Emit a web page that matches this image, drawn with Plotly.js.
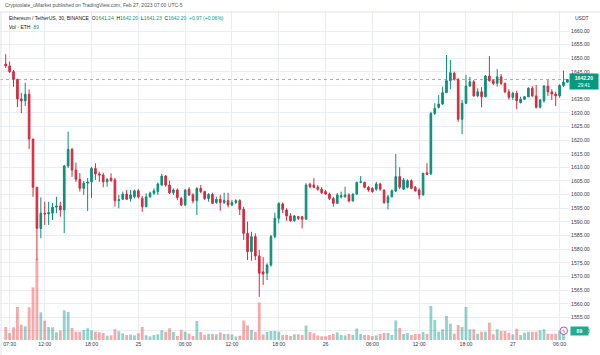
<!DOCTYPE html>
<html><head><meta charset="utf-8">
<script src="https://cdn.plot.ly/plotly-3.0.1.min.js"></script>
<style>html,body{margin:0;padding:0;background:#fff;}#chart{width:600px;height:355px;}</style>
</head><body><div id="chart"></div>
<script>
// ---- data (ETH/USDT, Binance, 30-minute candles, UTC-5) ----
const START = '2023-02-24T07:00:00Z';
const STEP_MIN = 30;

const opens = [1647.9,1647.2,1645.1,1642.3,1635.1,1634.4,1636.8,1620.4,1602.7,1587.6,
1593.2,1592.9,1593.2,1595.4,1595.8,1594.4,1610.5,1616.6,1609.0,1605.6,
1602.3,1604.2,1604.7,1609.6,1607.6,1607.2,1604.7,1606.0,1605.4,1597.8,
1598.3,1600.2,1598.6,1599.2,1601.4,1598.6,1595.6,1599.2,1600.5,1601.1,
1603.5,1606.8,1603.5,1600.7,1601.7,1598.6,1596.2,1601.9,1599.9,1597.8,
1602.3,1601.1,1598.6,1600.1,1597.1,1598.3,1597.1,1597.8,1596.2,1597.1,
1597.8,1594.6,1585.8,1579.1,1584.6,1577.5,1571.7,1571.2,1574.2,1584.6,
1591.3,1596.6,1594.4,1592.2,1590.4,1591.9,1591.9,1591.0,1603.8,1603.5,
1602.7,1602.0,1601.1,1600.2,1598.6,1596.8,1599.2,1599.2,1599.9,1597.7,
1600.2,1604.5,1604.5,1602.7,1602.3,1602.0,1603.9,1601.7,1597.1,1599.2,
1601.3,1606.6,1602.0,1602.7,1605.1,1602.7,1601.7,1599.9,1608.0,1607.6,
1629.8,1632.0,1633.2,1637.4,1641.8,1644.5,1642.3,1627.6,1633.5,1639.8,
1641.4,1636.2,1637.7,1635.9,1643.5,1641.8,1640.8,1643.2,1640.8,1637.7,
1635.7,1637.2,1633.7,1635.0,1635.9,1639.0,1636.2,1632.0,1634.4,1639.8,
1637.7,1636.9,1636.2,1640.0,1641.24];

const highs = [1651.5,1648.8,1645.7,1642.4,1637.3,1641.0,1638.6,1620.4,1602.8,1599.0,
1597.4,1597.4,1597.0,1599.2,1597.4,1610.9,1623.1,1617.1,1611.7,1607.9,
1605.0,1606.1,1610.2,1611.5,1608.4,1608.0,1606.0,1607.8,1606.1,1599.9,
1601.1,1601.7,1601.7,1601.9,1602.0,1599.5,1600.5,1601.1,1602.3,1604.4,
1607.6,1607.2,1605.1,1602.3,1602.3,1599.2,1601.9,1602.7,1600.5,1602.7,
1603.5,1601.4,1600.5,1600.7,1599.2,1599.9,1600.7,1600.7,1598.0,1598.3,
1598.3,1595.5,1590.1,1586.4,1585.8,1579.7,1577.1,1574.8,1585.2,1593.4,
1597.1,1597.1,1595.0,1593.2,1592.5,1592.2,1592.2,1604.2,1604.4,1606.0,
1603.5,1602.7,1601.7,1600.7,1599.2,1600.6,1601.1,1602.9,1600.5,1600.5,
1604.7,1606.8,1604.7,1603.2,1602.7,1604.7,1604.4,1601.9,1599.9,1601.9,
1614.9,1610.0,1606.1,1605.6,1605.6,1603.2,1602.3,1608.0,1611.5,1630.4,
1633.5,1636.5,1639.6,1651.2,1649.4,1645.1,1642.7,1634.7,1643.9,1643.2,
1642.0,1639.0,1639.4,1643.9,1650.8,1642.3,1646.0,1644.2,1641.0,1638.6,
1637.7,1638.1,1635.9,1636.2,1639.4,1639.8,1640.2,1635.0,1640.2,1642.0,
1638.6,1637.7,1640.5,1645.5,1642.20];

const lows = [1646.4,1644.6,1639.5,1632.1,1629.9,1632.5,1616.7,1599.2,1576.0,1584.0,
1588.9,1588.9,1590.7,1593.2,1591.9,1585.9,1609.8,1606.5,1604.7,1601.1,
1599.9,1594.0,1598.8,1605.4,1604.7,1602.7,1602.9,1604.7,1595.6,1595.0,
1598.0,1598.0,1597.4,1598.6,1598.6,1593.7,1595.3,1598.8,1599.9,1599.9,
1603.2,1602.9,1600.2,1599.9,1598.0,1595.8,1595.8,1599.5,1596.8,1592.5,
1600.5,1598.0,1597.4,1596.6,1596.6,1594.1,1596.6,1595.3,1595.8,1596.6,
1592.5,1583.4,1576.0,1575.8,1576.0,1562.5,1566.9,1568.7,1573.6,1584.0,
1589.5,1593.2,1590.4,1590.1,1590.1,1590.7,1587.6,1590.7,1602.3,1602.3,
1601.4,1600.2,1599.9,1598.0,1595.6,1596.6,1598.6,1598.9,1597.1,1597.4,
1599.9,1604.2,1602.3,1601.1,1600.7,1601.4,1601.4,1596.6,1594.6,1599.0,
1600.9,1602.0,1601.7,1602.3,1602.0,1601.1,1598.3,1599.6,1607.2,1607.2,
1629.2,1631.6,1632.9,1637.2,1638.6,1641.8,1626.7,1622.2,1633.2,1639.6,
1635.9,1635.7,1632.0,1635.7,1641.4,1640.2,1639.6,1640.2,1637.2,1634.9,
1634.7,1631.3,1633.5,1634.7,1635.7,1635.9,1631.6,1631.6,1633.7,1636.2,
1634.7,1632.5,1635.5,1639.5,1641.23];

const closes = [1647.2,1645.1,1642.3,1635.1,1634.4,1636.8,1620.4,1602.7,1587.6,1593.2,
1592.9,1593.4,1595.4,1595.8,1594.4,1610.5,1616.6,1609.0,1605.6,1602.3,
1604.2,1604.6,1609.6,1607.6,1607.2,1604.7,1605.6,1605.1,1597.8,1598.1,
1600.2,1598.3,1599.9,1601.4,1599.2,1595.6,1599.2,1600.5,1601.4,1603.9,
1606.8,1603.5,1600.7,1601.7,1598.9,1596.2,1601.7,1599.9,1597.7,1602.3,
1601.1,1598.6,1600.1,1596.8,1598.3,1597.1,1597.8,1596.2,1597.1,1597.8,
1594.6,1585.8,1579.1,1584.6,1577.5,1571.2,1570.9,1574.2,1584.6,1591.3,
1596.8,1594.6,1592.2,1590.4,1592.2,1591.3,1591.0,1603.5,1602.9,1602.7,
1602.0,1600.7,1600.2,1598.6,1596.8,1599.9,1599.6,1599.9,1597.7,1600.2,
1604.5,1604.7,1602.7,1601.7,1601.1,1603.9,1602.0,1597.1,1599.2,1601.4,
1606.6,1602.7,1605.4,1605.1,1602.3,1601.4,1599.9,1607.8,1607.4,1629.8,
1631.6,1633.2,1637.4,1641.8,1644.7,1642.3,1627.6,1633.5,1639.8,1641.4,
1636.2,1637.7,1635.9,1643.5,1641.8,1640.8,1643.2,1640.8,1637.7,1635.7,
1637.2,1634.4,1635.0,1635.9,1639.0,1636.2,1632.0,1634.7,1639.8,1637.7,
1636.9,1636.2,1640.0,1641.3,1642.20];

const volumes = [13000,7000,12700,33000,15300,13700,32700,52700,81300,27700,
19300,13000,12700,7700,9300,29700,28000,12000,8300,8300,
10000,11700,9700,8300,7700,7000,4300,4700,10700,8700,
6700,5000,5300,4700,6700,13000,4700,3700,5000,5700,
9700,8300,11700,8000,4000,10000,8300,6300,4000,19000,
8000,5300,6000,6000,5700,7500,6000,6000,5500,3500,
4300,19500,14500,10000,8000,37500,5500,8000,9000,9000,
8300,5000,5000,4000,5700,5700,5000,14500,8000,6700,
4500,3700,3700,5000,6000,7500,5000,4500,6000,5000,
11500,6000,5000,5000,4000,4500,6000,7000,7000,5000,
19500,12000,6000,7000,5000,6000,6000,8000,6000,34000,
20000,8300,10700,24000,16300,6300,15000,13000,33000,10700,
10700,6300,8300,8300,17300,5700,10700,9000,9000,7300,
5700,11300,5000,7300,8300,8300,8300,9700,10700,6300,
6300,6300,9000,9000,89];

// price axis ticks; the 1640.00 label is hidden behind the last-price tag in the reference
const priceTicks = [1550,1555,1560,1565,1570,1575,1580,1585,1590,1595,1600,1605,1610,1615,1620,1625,1630,1635,1640,1645,1650,1655,1660];
const priceTickText = ['1550.00','1555.00','1560.00','1565.00','1570.00','1575.00','1580.00','1585.00','1590.00','1595.00','1600.00','1605.00','1610.00','1615.00','1620.00','1625.00','1630.00','1635.00','','1645.00','1650.00','1655.00','1660.00'];
const timeTickVals = ['2023-02-24 07:30','2023-02-24 12:00','2023-02-24 18:00','2023-02-25 00:00','2023-02-25 06:00','2023-02-25 12:00','2023-02-25 18:00','2023-02-26 00:00','2023-02-26 06:00','2023-02-26 12:00','2023-02-26 18:00','2023-02-27 00:00','2023-02-27 06:00'];
const timeTickText = ['07:30','12:00','18:00','25','06:00','12:00','18:00','26','06:00','12:00','18:00','27','06:00'];

const lastPrice = 1642.20;
const countdown = '29:41';
const lastVolume = 89;

// ---- build ----
const UP = '#0a8f7a', DOWN = '#d9293d';
const UPV = 'rgba(38,166,154,0.5)', DOWNV = 'rgba(239,83,80,0.5)';
const t0 = Date.parse(START), step = STEP_MIN * 60000;
const fmt = ms => new Date(ms).toISOString().slice(0,16).replace('T',' ');
const times = opens.map((_, i) => fmt(t0 + i * step));
const volColors = opens.map((o, i) => closes[i] >= o ? UPV : DOWNV);

// layout geometry
const W = 600, H = 355, ML = 0, MR = 30, MT = 12, MB = 15;
const PW = W - ML - MR, PH = H - MT - MB;
const PX_PER_USD = 2.727;
const price31 = 1660; // 1660 gridline sits at y=31
const priceMax = price31 + (31 - MT) / PX_PER_USD;
const priceMin = priceMax - PH / PX_PER_USD;
const pxPerStep = 3.9, firstPx = 5.7;
const xr = [fmt(t0 - (firstPx / pxPerStep) * step), fmt(t0 + ((PW - firstPx) / pxPerStep) * step)];
const px = x => x / PW;             // page x -> paper x
const py = y => (H - MB - y) / PH;  // page y -> paper y

const FONT = 'Liberation Sans, Arial, sans-serif';
const tickFont = {family: FONT, size: 5.2, color: '#3a3e48'};

const volTrace = {
  type: 'bar', x: times, y: volumes, marker: {color: volColors, line: {width: 0}},
  xaxis: 'x', yaxis: 'y', hoverinfo: 'skip'
};
const candleTrace = {
  type: 'candlestick', x: times, open: opens, high: highs, low: lows, close: closes,
  xaxis: 'x', yaxis: 'y2',
  increasing: {line: {color: UP, width: 1}, fillcolor: UP},
  decreasing: {line: {color: DOWN, width: 1}, fillcolor: DOWN},
  whiskerwidth: 0, hoverinfo: 'skip'
};

const G = '#089981';
const layout = {
  width: W, height: H, margin: {l: ML, r: MR, t: MT, b: MB},
  paper_bgcolor: '#ffffff', plot_bgcolor: '#ffffff', showlegend: false,
  boxgap: 0.4, bargap: 0.28,
  xaxis: {type: 'date', range: xr, tickmode: 'array', tickvals: timeTickVals, ticktext: timeTickText,
    showgrid: true, gridcolor: '#eaedf2', gridwidth: 1, zeroline: false, showline: false, ticks: '',
    tickfont: tickFont, rangeslider: {visible: false}, fixedrange: true},
  yaxis: {range: [0, PH * 1000], visible: false, showgrid: false, fixedrange: true},
  yaxis2: {overlaying: 'y', side: 'right', range: [priceMin, priceMax], tickmode: 'array', tickvals: priceTicks,
    ticktext: priceTickText, showgrid: true, gridcolor: '#eaedf2', gridwidth: 1, zeroline: false, showline: false,
    ticks: '', tickfont: tickFont, fixedrange: true},
  shapes: [
    {type: 'line', xref: 'paper', yref: 'y2', x0: 0, x1: 1, y0: lastPrice, y1: lastPrice,
      line: {color: 'rgba(8,153,129,0.55)', width: 1, dash: 'dot'}},
    {type: 'line', xref: 'paper', yref: 'paper', x0: px(0), x1: px(600), y0: py(12), y1: py(12),
      line: {color: '#e0e3eb', width: 1}},
    {type: 'line', xref: 'paper', yref: 'paper', x0: px(1), x1: px(1), y0: py(12), y1: py(355),
      line: {color: '#e0e3eb', width: 1}},
    {type: 'circle', xref: 'paper', yref: 'paper', x0: px(560), x1: px(567.5), y0: py(334.5), y1: py(327),
      line: {color: '#9c27b0', width: 0.8}, fillcolor: '#ffffff'}
  ],
  annotations: [
    {xref: 'paper', yref: 'paper', x: px(3), y: py(5.3), xanchor: 'left', yanchor: 'middle', showarrow: false,
      text: 'Cryptoslate_uMarket published on TradingView.com, Feb 27, 2023 07:00 UTC-5',
      font: {family: FONT, size: 5, color: '#50535e'}},
    {xref: 'paper', yref: 'paper', x: px(7), y: py(18.3), xanchor: 'left', yanchor: 'middle', showarrow: false,
      text: 'Ethereum / TetherUS, 30, BINANCE&nbsp;&nbsp;O<span style="color:' + G + '">' + opens[opens.length-1].toFixed(2) +
        '</span>&nbsp;&nbsp;H<span style="color:' + G + '">' + highs[highs.length-1].toFixed(2) +
        '</span>&nbsp;&nbsp;L<span style="color:' + G + '">' + lows[lows.length-1].toFixed(2) +
        '</span>&nbsp;&nbsp;C<span style="color:' + G + '">' + closes[closes.length-1].toFixed(2) +
        '</span>&nbsp;&nbsp;<span style="color:' + G + '">+0.97 (+0.06%)</span>',
      font: {family: FONT, size: 5, color: '#131722'}},
    {xref: 'paper', yref: 'paper', x: px(7), y: py(26.7), xanchor: 'left', yanchor: 'middle', showarrow: false,
      text: 'Vol · ETH&nbsp;&nbsp;<span style="color:' + G + '">' + lastVolume + '</span>',
      font: {family: FONT, size: 5, color: '#131722'}},
    {xref: 'paper', yref: 'paper', x: px(573), y: py(18), xanchor: 'left', yanchor: 'middle', showarrow: false,
      text: 'USDT', font: {family: FONT, size: 5, color: '#3a3e48'}},
    {xref: 'paper', yref: 'y2', x: px(569), y: lastPrice, xanchor: 'left', yanchor: 'middle', yshift: -2, showarrow: false,
      text: '<b>' + lastPrice.toFixed(2) + '</b><br>' + countdown, bgcolor: '#089981', borderpad: 1,
      width: 26, align: 'center', font: {family: FONT, size: 5, color: '#ffffff'}},
    {xref: 'paper', yref: 'paper', x: px(570), y: py(330.5), xanchor: 'left', yanchor: 'middle', showarrow: false,
      text: '<b>' + lastVolume + '</b>', bgcolor: '#22ab94', borderpad: 1, width: 15, align: 'center',
      font: {family: FONT, size: 5, color: '#ffffff'}},
    {xref: 'paper', yref: 'paper', x: px(563.8), y: py(330.8), xanchor: 'center', yanchor: 'middle', showarrow: false,
      text: 'ϟ', font: {family: 'DejaVu Sans', size: 5, color: '#9c27b0'}}
  ]
};

Plotly.newPlot('chart', [volTrace, candleTrace], layout, {staticPlot: true, displayModeBar: false});
</script></body></html>
